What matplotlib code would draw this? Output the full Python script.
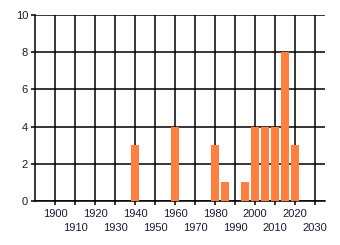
import matplotlib
matplotlib.use("Agg")
import matplotlib.pyplot as plt

# data
years = [1940, 1960, 1980, 1985, 1995, 2000, 2005, 2010, 2015, 2020]
counts = [3, 4, 3, 1, 1, 4, 4, 4, 8, 3]
upper_ticks = list(range(1900, 2021, 20))
lower_ticks = list(range(1910, 2031, 20))

plt.rcParams['font.family'] = ['Liberation Sans', 'DejaVu Sans']
text_col = '#1a1a3a'

fig = plt.figure(figsize=(3.4, 2.45), dpi=100)
ax = fig.add_axes([35 / 340, 1 - 201 / 245, 290 / 340, 186 / 245])

ax.bar(years, counts, width=4, color='#ff7f3f', zorder=3)

ax.set_xlim(1890, 2035)
ax.set_ylim(0, 10)
ax.set_yticks(range(0, 11, 2))
# staggered labels: major ticks on the first row, minor ones on a second row
ax.set_xticks(upper_ticks)
ax.set_xticklabels([str(y) for y in upper_ticks])
ax.set_xticks(lower_ticks, minor=True)
ax.set_xticklabels([str(y) for y in lower_ticks], minor=True)

ax.grid(True, which='major', color='black', linewidth=1.1, zorder=1)
ax.grid(True, which='minor', axis='x', color='black', linewidth=1.1, zorder=1)
for side in ['top', 'right']:
    ax.spines[side].set_visible(False)
for side in ['left', 'bottom']:
    ax.spines[side].set_linewidth(1.1)
ax.tick_params(axis='both', which='both', length=3, width=1.1, labelsize=8,
               colors='black', labelcolor=text_col, pad=2)
ax.tick_params(axis='x', which='major', pad=3)
ax.tick_params(axis='x', which='minor', pad=13)

fig.savefig('out.png', dpi=100)
